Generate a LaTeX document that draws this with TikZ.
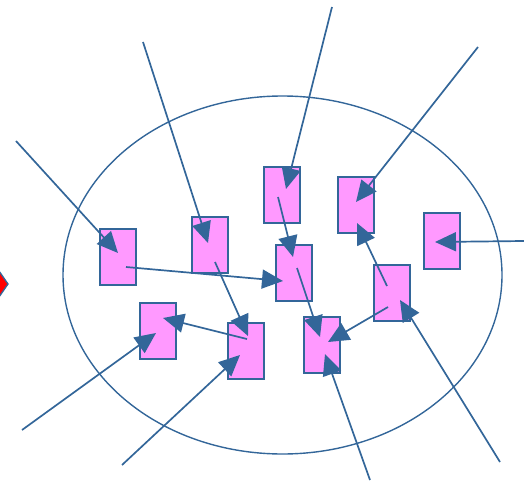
\documentclass[tikz,border=0pt]{standalone}
\usetikzlibrary{arrows.meta}
\definecolor{lineblue}{RGB}{51,102,153}
\definecolor{boxpink}{RGB}{255,153,255}
\tikzset{
  cell/.style={draw=lineblue,fill=boxpink,line width=1.3pt,
    minimum width=36pt,minimum height=56pt,inner sep=0pt},
  link/.style={draw=lineblue,line width=1.7pt,
    -{Triangle[length=21pt,width=19pt]}}
}

\begin{document}
\begin{tikzpicture}[x=1pt,y=-1pt]
\useasboundingbox (0,0) rectangle (524,481);
% boundary
\draw[lineblue,line width=1.4pt] (282.5,275) ellipse (219.5 and 179);
\filldraw[fill=red,draw=lineblue,line width=1.3pt] (8,284) -- (-10,310) -- (-28,284) -- (-10,258) -- cycle;
% cells
\node[cell] (a) at (118,257) {};
\node[cell] (b) at (210,245) {};
\node[cell] (c) at (158,331) {};
\node[cell] (d) at (246,351) {};
\node[cell] (e) at (282,195) {};
\node[cell] (f) at (294,273) {};
\node[cell] (g) at (356,205) {};
\node[cell] (h) at (392,293) {};
\node[cell] (i) at (322,345) {};
\node[cell] (j) at (442,241) {};
% outside ends
\coordinate (in1) at (16,141);
\coordinate (in2) at (143,42);
\coordinate (in3) at (332,7);
\coordinate (in4) at (478,47);
\coordinate (in5) at (524,241);
\coordinate (in6) at (22,430);
\coordinate (in7) at (122,465);
\coordinate (in8) at (370,480);
\coordinate (in9) at (500,462);
% incoming
\draw[link] (in1) -- ([shift={(0,-4)}]a.center);
\draw[link] (in2) -- ([shift={(-2,-2)}]b.center);
\draw[link] (in3) -- ([shift={(4,-6)}]e.center);
\draw[link] (in4) -- ([shift={(0,-3)}]g.center);
\draw[link] (in5) -- ([shift={(-7,1)}]j.center);
\draw[link] (in6) -- ([shift={(-2,2)}]c.center);
\draw[link] (in7) -- ([shift={(-6,4)}]d.center);
\draw[link] (in8) -- ([shift={(3,9)}]i.center);
\draw[link] (in9) -- ([shift={(8,7)}]h.center);
% inside
\draw[link] ([shift={(8,10)}]a.center) -- ([shift={(-11,8)}]f.center);
\draw[link] ([shift={(5,17)}]b.center) -- ([shift={(2,-15)}]d.center);
\draw[link] ([shift={(-4,2)}]e.center) -- ([shift={(-1,-16)}]f.center);
\draw[link] ([shift={(3,-5)}]f.center) -- ([shift={(-2,-8)}]i.center);
\draw[link] ([shift={(-5,-7)}]h.center) -- ([shift={(1,18)}]g.center);
\draw[link] ([shift={(-4,14)}]h.center) -- ([shift={(6,-3)}]i.center);
\draw[link] ([shift={(1,-12)}]d.center) -- ([shift={(5,-13)}]c.center);
\end{tikzpicture}
\end{document}
